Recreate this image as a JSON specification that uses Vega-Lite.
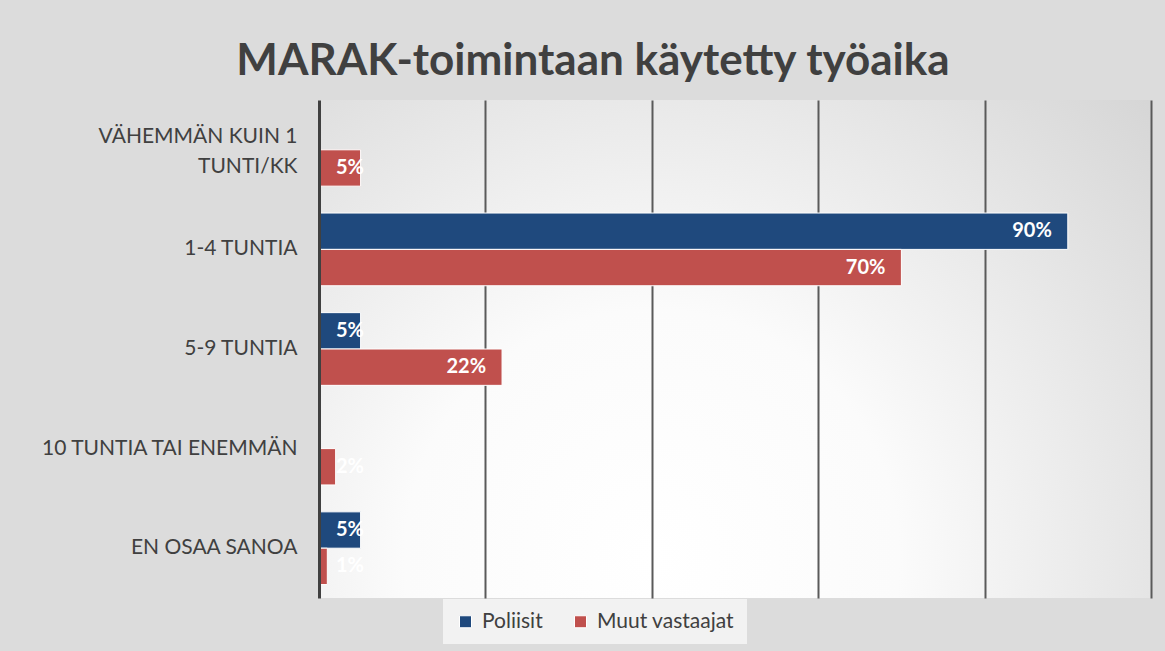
{
  "$schema": "https://vega.github.io/schema/vega-lite/v6.json",
  "autosize": {"type": "none"},
  "width": 832,
  "height": 498,
  "padding": {"left": 319, "top": 100, "right": 14, "bottom": 53},
  "background": "#dcdcdc",
  "view": {
    "stroke": null,
    "fill": {
      "gradient": "radial",
      "x1": 0.4, "y1": 0.75, "r1": 0,
      "x2": 0.4, "y2": 0.75, "r2": 0.85,
      "stops": [
        {"offset": 0, "color": "#ffffff"},
        {"offset": 0.35, "color": "#fbfbfb"},
        {"offset": 1, "color": "#d3d3d3"}
      ]
    }
  },
  "title": {
    "text": "MARAK-toimintaan käytetty työaika",
    "font": "Lato",
    "fontSize": 44,
    "fontWeight": "bold",
    "color": "#404040",
    "anchor": "middle",
    "frame": "group",
    "dx": -142,
    "offset": 16
  },
  "data": {
    "values": [
      {"cat": "VÄHEMMÄN KUIN 1 TUNTI/KK", "series": "Poliisit", "v": 0},
      {"cat": "VÄHEMMÄN KUIN 1 TUNTI/KK", "series": "Muut vastaajat", "v": 0.05},
      {"cat": "1-4 TUNTIA", "series": "Poliisit", "v": 0.90},
      {"cat": "1-4 TUNTIA", "series": "Muut vastaajat", "v": 0.70},
      {"cat": "5-9 TUNTIA", "series": "Poliisit", "v": 0.05},
      {"cat": "5-9 TUNTIA", "series": "Muut vastaajat", "v": 0.22},
      {"cat": "10 TUNTIA TAI ENEMMÄN", "series": "Poliisit", "v": 0},
      {"cat": "10 TUNTIA TAI ENEMMÄN", "series": "Muut vastaajat", "v": 0.02},
      {"cat": "EN OSAA SANOA", "series": "Poliisit", "v": 0.05},
      {"cat": "EN OSAA SANOA", "series": "Muut vastaajat", "v": 0.01}
    ]
  },
  "encoding": {
    "y": {
      "field": "cat",
      "type": "nominal",
      "sort": null,
      "scale": {"paddingInner": 0.27, "paddingOuter": 0.135},
      "axis": {
        "title": null,
        "ticks": false,
        "grid": false,
        "domain": true,
        "domainColor": "#404040",
        "domainWidth": 3,
        "labelFont": "Lato",
        "labelFontSize": 21,
        "labelColor": "#404040",
        "labelPadding": 22,
        "labelLimit": 400,
        "labelLineHeight": 30,
        "labelOffset": {"condition": {"test": "datum.value == 'VÄHEMMÄN KUIN 1 TUNTI/KK'", "value": -13}, "value": 0},
        "zindex": 1,
        "labelExpr": "datum.value == 'VÄHEMMÄN KUIN 1 TUNTI/KK' ? ['VÄHEMMÄN KUIN 1', 'TUNTI/KK'] : datum.label"
      }
    },
    "yOffset": {
      "field": "series",
      "type": "nominal",
      "sort": ["Poliisit", "Muut vastaajat"],
      "scale": {"paddingInner": 0, "paddingOuter": 0}
    }
  },
  "layer": [
    {
      "mark": {"type": "bar", "stroke": "#ffffff", "strokeWidth": 1},
      "encoding": {
        "x": {
          "field": "v",
          "type": "quantitative",
          "scale": {"domain": [0, 1], "nice": false},
          "axis": {
            "title": null,
            "labels": false,
            "ticks": false,
            "domain": false,
            "grid": true,
            "values": [0.2, 0.4, 0.6, 0.8, 1],
            "gridColor": "#5a5a5a",
            "gridWidth": 2,
            "zindex": 0
          }
        },
        "color": {
          "field": "series",
          "type": "nominal",
          "scale": {"domain": ["Poliisit", "Muut vastaajat"], "range": ["#1f497d", "#c0504d"]},
          "legend": {
            "title": null,
            "orient": "none",
            "direction": "horizontal",
            "legendX": 124,
            "legendY": 499,
            "padding": 12,
            "fillColor": "#f2f2f2",
            "symbolType": "square",
            "symbolSize": 144,
            "symbolStrokeColor": "#ffffff",
            "symbolStrokeWidth": 1,
            "labelFont": "Lato",
            "labelFontSize": 21,
            "labelColor": "#404040",
            "labelOffset": 6,
            "columnPadding": 27
          }
        }
      }
    },
    {
      "transform": [{"filter": "datum.v >= 0.1"}],
      "mark": {"type": "text", "align": "right", "baseline": "middle", "dx": -16, "font": "Lato", "fontSize": 20, "fontWeight": "bold", "color": "#ffffff"},
      "encoding": {
        "x": {"field": "v", "type": "quantitative"},
        "text": {"field": "v", "type": "quantitative", "format": ".0%"},
        "detail": {"field": "series"}
      }
    },
    {
      "transform": [{"filter": "datum.v > 0 && datum.v < 0.1"}],
      "mark": {"type": "text", "align": "left", "baseline": "middle", "dx": 17, "font": "Lato", "fontSize": 20, "fontWeight": "bold", "color": "#ffffff"},
      "encoding": {
        "x": {"datum": 0, "type": "quantitative"},
        "text": {"field": "v", "type": "quantitative", "format": ".0%"},
        "detail": {"field": "series"}
      }
    }
  ]
}
